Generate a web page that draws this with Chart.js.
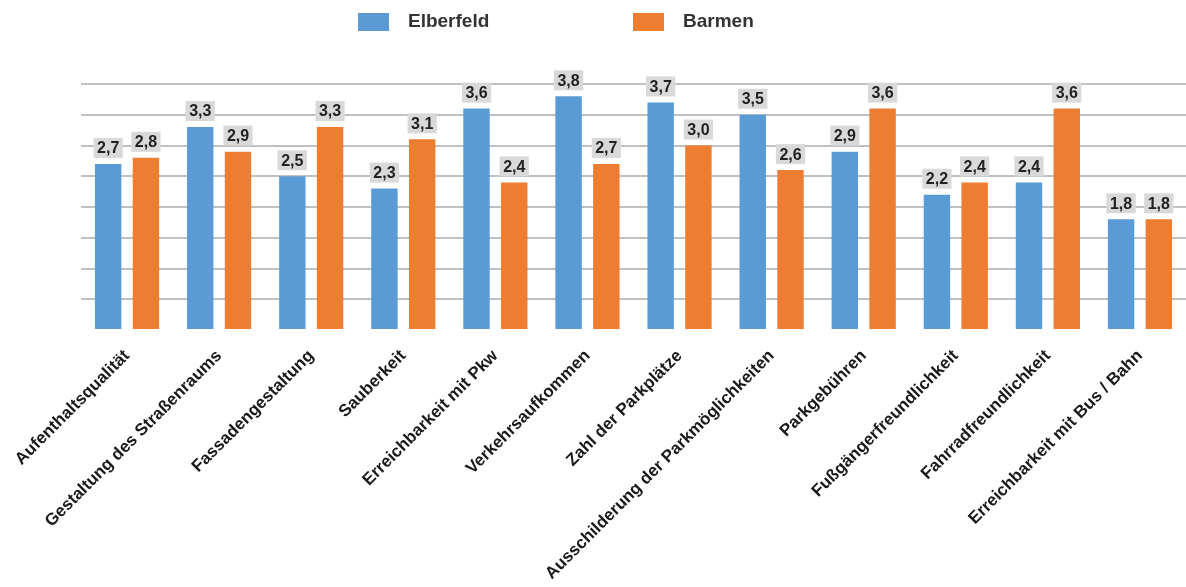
<!DOCTYPE html>
<html>
<head>
<meta charset="utf-8">
<script src="https://cdn.jsdelivr.net/npm/chart.js@4"></script>
<style>
  body { margin: 0; background: #fff; }
</style>
</head>
<body>
<canvas id="bewertung" width="1186" height="587"></canvas>
<script>
const categories = [
    "Aufenthaltsqualität",
    "Gestaltung des Straßenraums",
    "Fassadengestaltung",
    "Sauberkeit",
    "Erreichbarkeit mit Pkw",
    "Verkehrsaufkommen",
    "Zahl der Parkplätze",
    "Ausschilderung der Parkmöglichkeiten",
    "Parkgebühren",
    "Fußgängerfreundlichkeit",
    "Fahrradfreundlichkeit",
    "Erreichbarkeit mit Bus / Bahn",
];
const elberfeld = [2.7, 3.3, 2.5, 2.3, 3.6, 3.8, 3.7, 3.5, 2.9, 2.2, 2.4, 1.8];
const barmen = [2.8, 2.9, 3.3, 3.1, 2.4, 2.7, 3.0, 2.6, 3.6, 2.4, 3.6, 1.8];
const yMax = 4;
const yStep = 0.5;

const fontFamily = '"Liberation Sans", Arial, sans-serif';

// value boxes above the bars (grey fill, comma decimals)
const valueLabels = {
    id: "valueLabels",
    afterDatasetsDraw(chart) {
        const ctx = chart.ctx;
        ctx.save();
        ctx.font = "bold 16px " + fontFamily;
        ctx.textAlign = "center";
        ctx.textBaseline = "middle";
        chart.data.datasets.forEach((ds, i) => {
            chart.getDatasetMeta(i).data.forEach((bar, j) => {
                const txt = ds.data[j].toFixed(1).replace(".", ",");
                const w = ctx.measureText(txt).width + 7;
                const h = 20;
                const bottom = bar.y - 6;
                ctx.fillStyle = "#d9d9d9";
                ctx.fillRect(bar.x - w / 2, bottom - h, w, h);
                ctx.fillStyle = "#222";
                ctx.fillText(txt, bar.x, bottom - h / 2 + 1);
            });
        });
        ctx.restore();
    }
};

// legend row at the top
const topLegend = {
    id: "topLegend",
    afterDraw(chart) {
        const ctx = chart.ctx;
        const xs = [358, 633];
        ctx.save();
        ctx.font = "bold 19px " + fontFamily;
        ctx.textBaseline = "middle";
        chart.data.datasets.forEach((ds, i) => {
            ctx.fillStyle = ds.backgroundColor;
            ctx.fillRect(xs[i], 13, 31, 18);
            ctx.fillStyle = "#333";
            ctx.fillText(ds.label, xs[i] + 50, 22);
        });
        ctx.restore();
    }
};

const ctx = document.getElementById("bewertung");

new Chart(ctx, {
    type: "bar",
    data: {
        labels: categories,
        datasets: [{
            label: "Elberfeld",
            data: elberfeld,
            backgroundColor: "#5b9bd5",
            borderWidth: 0,
            categoryPercentage: 0.82,
            barPercentage: 0.7,
        }, {
            label: "Barmen",
            data: barmen,
            backgroundColor: "#ed7d31",
            borderWidth: 0,
            categoryPercentage: 0.82,
            barPercentage: 0.7,
        }],
    },
    options: {
        responsive: false,
        animation: false,
        layout: {
            padding: { left: 81, top: 84, right: 0, bottom: 0 }
        },
        plugins: {
            legend: { display: false },
            tooltip: { enabled: false },
        },
        scales: {
            x: {
                grid: { display: false },
                border: { display: false },
                ticks: {
                    autoSkip: false,
                    minRotation: 45,
                    maxRotation: 45,
                    padding: 8,
                    color: "#1a1a1a",
                    font: { family: fontFamily, size: 17, weight: "bold" },
                },
                afterFit(scale) {
                    scale.height = 257;
                },
            },
            y: {
                min: 0,
                max: yMax,
                ticks: { display: false, stepSize: yStep },
                border: { display: false },
                grid: {
                    drawTicks: false,
                    lineWidth: 2,
                    color: (c) => c.tick && c.tick.value === 0 ? "rgba(0,0,0,0)" : "#c0c0c0",
                },
            },
        },
    },
    plugins: [valueLabels, topLegend],
});
</script>
</body>
</html>
